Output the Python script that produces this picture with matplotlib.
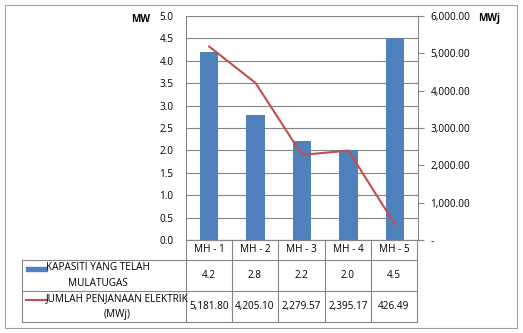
import matplotlib
matplotlib.use("Agg")
import matplotlib.pyplot as plt
from matplotlib.lines import Line2D
from matplotlib.patches import Rectangle

# data
categories = ["MH - 1", "MH - 2", "MH - 3", "MH - 4", "MH - 5"]
kapasiti = [4.2, 2.8, 2.2, 2.0, 4.5]                        # MW
penjanaan = [5181.80, 4205.10, 2279.57, 2395.17, 426.49]    # MWj
series_names = ["KAPASITI YANG TELAH\nMULATUGAS",
                "JUMLAH PENJANAAN ELEKTRIK\n(MWj)"]

BLUE = "#4F81BD"
RED = "#C0504D"
GRID = "#868686"
FONT = "Open Sans"
FS = 7.2

W, H = 523, 333
plt.rcParams["font.family"] = [FONT, "DejaVu Sans"]
fig = plt.figure(figsize=(W / 100, H / 100), dpi=100)


def fx(px):
    return px / W


def fy(py):
    return 1 - py / H


def hline(x0, x1, y, color=GRID, lw=0.8):
    fig.add_artist(Line2D([fx(x0), fx(x1)], [fy(y), fy(y)], color=color, lw=lw))


def vline(x, y0, y1, color=GRID, lw=0.8):
    fig.add_artist(Line2D([fx(x), fx(x)], [fy(y0), fy(y1)], color=color, lw=lw))


# outer chart border
fig.add_artist(Rectangle((fx(5), fy(328)), fx(512), (323) / H, fill=False,
                         edgecolor="#A0A0A0", lw=0.8))

left, right, top, bottom = 186, 418, 16, 240
ax = fig.add_axes([fx(left), fy(bottom), fx(right - left), (bottom - top) / H])
x = range(len(categories))
ax.bar(x, kapasiti, width=0.4, color=BLUE, zorder=2)
ax.set_xlim(-0.5, len(categories) - 0.5)
ax.set_ylim(0, 5)
ax.set_yticks([i * 0.5 for i in range(11)])
ax.set_yticklabels([f"{i * 0.5:.1f}" for i in range(11)], fontsize=FS)
ax.tick_params(axis="y", length=0, pad=9)
ax.set_xticks([])
ax.grid(axis="y", color=GRID, lw=0.8, zorder=0)
for s in ["top", "right"]:
    ax.spines[s].set_visible(False)
for s in ["left", "bottom"]:
    ax.spines[s].set_color(GRID)
    ax.spines[s].set_linewidth(0.8)

ax2 = ax.twinx()
ax2.plot(x, penjanaan, color=RED, lw=1.5, zorder=3)
ax2.set_ylim(0, 6000)
rticks = [i * 1000 for i in range(7)]
ax2.set_yticks(rticks)
ax2.set_yticklabels(["-"] + [f"{v:,.2f}" for v in rticks[1:]], fontsize=FS)
ax2.tick_params(axis="y", length=4, color=GRID, pad=5)
for s in ["top", "left", "bottom"]:
    ax2.spines[s].set_visible(False)
ax2.spines["right"].set_color(GRID)
ax2.spines["right"].set_linewidth(0.8)

fig.text(fx(150), fy(19), "MW", fontsize=FS, fontweight="bold", ha="right", va="center")
fig.text(fx(478), fy(19), "MWj", fontsize=FS, fontweight="bold", ha="left", va="center")

# data table below the axes
col_x = [186, 232, 278, 325, 371, 417]
hline(186, 422, 240)
hline(22, 417, 260)
hline(22, 417, 291)
hline(22, 417, 322)
vline(22, 260, 322)
for cx in col_x:
    vline(cx, 240, 322)

for i, cat in enumerate(categories):
    cx = (col_x[i] + col_x[i + 1]) / 2
    fig.text(fx(cx), fy(250), cat, fontsize=FS, ha="center", va="center")
    fig.text(fx(cx), fy(275.5), f"{kapasiti[i]:.1f}", fontsize=FS, ha="center", va="center")
    fig.text(fx(cx), fy(306.5), f"{penjanaan[i]:,.2f}", fontsize=FS, ha="center", va="center")

# legend keys inside the table
fig.add_artist(Rectangle((fx(26), fy(271)), fx(21), 4 / H, color=BLUE))
hline(26, 47, 300, color=RED, lw=1.5)
fig.text(fx(98), fy(275.5), series_names[0], fontsize=FS, ha="center", va="center",
         linespacing=1.5)
fig.text(fx(117), fy(306.5), series_names[1], fontsize=FS, ha="center", va="center",
         linespacing=1.5)

fig.savefig("out.png", dpi=100)
